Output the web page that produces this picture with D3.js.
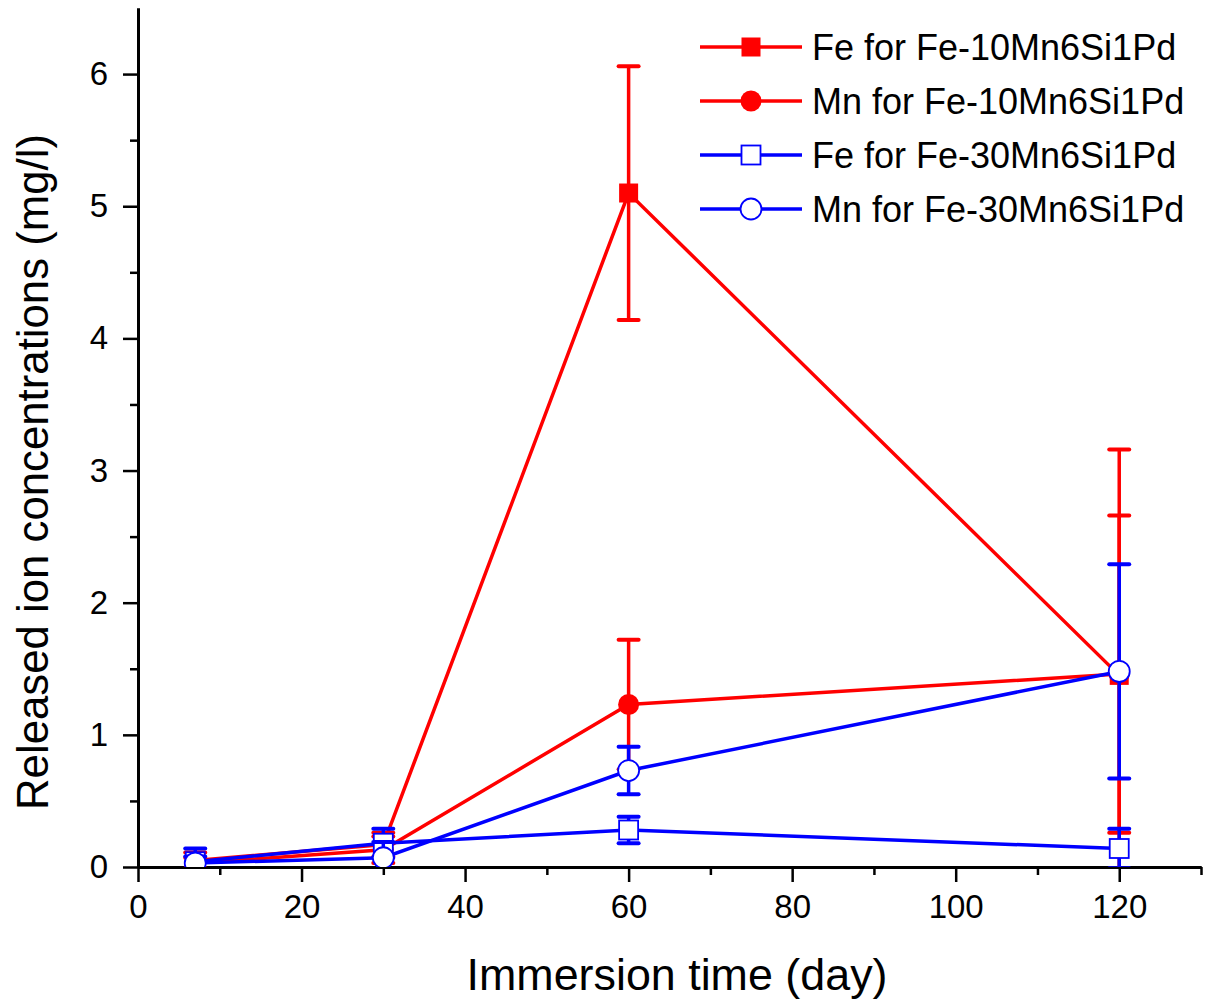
<!DOCTYPE html>
<html lang="en">
<head>
<meta charset="UTF-8" />
<title>Released ion concentrations</title>
<style>
  body { margin: 0; background: #fff; }
  svg text { font-family: "Liberation Sans", Arial, sans-serif; fill: #000; }
</style>
</head>
<body>
<script src="https://cdn.jsdelivr.net/npm/d3@7"></script>
<div id="app"></div>
<script>
// DATA
const days = [7, 30, 60, 120];

const feFe10 = [0.05, 0.17, 5.10, 1.45];
const feFe10Err = [0.06, 0.09, 0.96, 1.71];

const mnFe10 = [0.03, 0.13, 1.23, 1.46];
const mnFe10Err = [0.04, 0.10, 0.49, 1.20];

const feFe30 = [0.04, 0.18, 0.28, 0.14];
const feFe30Err = [0.10, 0.11, 0.10, 0.15];

const mnFe30 = [0.03, 0.07, 0.73, 1.48];
const mnFe30Err = [0.05, 0.12, 0.18, 0.81];

const seriesNames = [
  "Fe for Fe-10Mn6Si1Pd",
  "Mn for Fe-10Mn6Si1Pd",
  "Fe for Fe-30Mn6Si1Pd",
  "Mn for Fe-30Mn6Si1Pd"
];

const xTicks = [0, 20, 40, 60, 80, 100, 120];
const yTicks = [0, 1, 2, 3, 4, 5, 6];

// series table built from the arrays above
const series = [
  { name: seriesNames[0], vals: feFe10, errs: feFe10Err, color: "#ff0000", shape: "square", filled: true },
  { name: seriesNames[1], vals: mnFe10, errs: mnFe10Err, color: "#ff0000", shape: "circle", filled: true },
  { name: seriesNames[2], vals: feFe30, errs: feFe30Err, color: "#0000ff", shape: "square", filled: false },
  { name: seriesNames[3], vals: mnFe30, errs: mnFe30Err, color: "#0000ff", shape: "circle", filled: false }
];

// SVG
const w = 1206, h = 1007;
const mLeft = 138, mRight = 1201, mTop = 8, mBottom = 867;

const svg = d3.select("#app")
  .append("svg")
  .attr("width", w)
  .attr("height", h);

const xScale = d3.scaleLinear().domain([0, 130]).range([mLeft, mRight]);
const yScale = d3.scaleLinear().domain([0, 6.5]).range([mBottom, mTop]);

svg.append("clipPath").attr("id", "plotclip")
  .append("rect")
  .attr("x", mLeft).attr("y", mTop - 2)
  .attr("width", mRight - mLeft + 2).attr("height", mBottom - mTop + 2);

// AXES
const xAxis = d3.axisBottom(xScale)
  .tickValues(xTicks)
  .tickFormat(d3.format("d"))
  .tickSize(15)
  .tickSizeOuter(0)
  .tickPadding(13);

const xMinor = d3.axisBottom(xScale)
  .tickValues(d3.range(10, 131, 20))
  .tickFormat("")
  .tickSize(8)
  .tickSizeOuter(0);

const yAxis = d3.axisLeft(yScale)
  .tickValues(yTicks)
  .tickFormat(d3.format("d"))
  .tickSize(15)
  .tickSizeOuter(0)
  .tickPadding(15);

const yMinor = d3.axisLeft(yScale)
  .tickValues(d3.range(0.5, 6.5, 1))
  .tickFormat("")
  .tickSize(8)
  .tickSizeOuter(0);

[
  [xMinor, "translate(0," + mBottom + ")"],
  [xAxis, "translate(0," + mBottom + ")"],
  [yMinor, "translate(" + mLeft + ",0)"],
  [yAxis, "translate(" + mLeft + ",0)"]
].forEach(([ax, tr]) => {
  const g = svg.append("g").attr("transform", tr).call(ax);
  g.attr("font-size", null).attr("font-family", null);
  g.selectAll("line").attr("stroke", "#000").attr("stroke-width", 2.5);
  g.select(".domain").attr("stroke", "#000").attr("stroke-width", 3);
  g.selectAll("text").style("font-size", "33px");
});

// axis titles
svg.append("text")
  .attr("x", 677)
  .attr("y", 990)
  .attr("text-anchor", "middle")
  .attr("textLength", 421)
  .attr("lengthAdjust", "spacingAndGlyphs")
  .style("font-size", "44px")
  .text("Immersion time (day)");

svg.append("text")
  .attr("transform", "translate(48," + 472 + ") rotate(-90)")
  .attr("text-anchor", "middle")
  .attr("textLength", 676)
  .attr("lengthAdjust", "spacingAndGlyphs")
  .style("font-size", "44px")
  .text("Released ion concentrations (mg/l)");

// SERIES
const plot = svg.append("g").attr("clip-path", "url(#plotclip)");
const line = d3.line().x((d, i) => xScale(days[i])).y(d => yScale(d));

function drawMarker(g, shape, filled, color, cx, cy) {
  if (shape === "square") {
    g.append("rect")
      .attr("x", cx - 9.5).attr("y", cy - 9.5)
      .attr("width", 19).attr("height", 19)
      .attr("fill", filled ? color : "#fff")
      .attr("stroke", color)
      .attr("stroke-width", filled ? 0 : 1.8);
  } else {
    g.append("circle")
      .attr("cx", cx).attr("cy", cy).attr("r", 10.5)
      .attr("fill", filled ? color : "#fff")
      .attr("stroke", color)
      .attr("stroke-width", filled ? 0 : 1.8);
  }
}

series.forEach(s => {
  const g = plot.append("g");
  g.append("path")
    .datum(s.vals)
    .attr("d", line)
    .attr("fill", "none")
    .attr("stroke", s.color)
    .attr("stroke-width", 3.5);

  s.vals.forEach((v, i) => {
    const cx = xScale(days[i]);
    const hi = yScale(v + s.errs[i]);
    const lo = yScale(v - s.errs[i]);
    g.append("line")
      .attr("x1", cx).attr("x2", cx)
      .attr("y1", hi).attr("y2", lo)
      .attr("stroke", s.color).attr("stroke-width", 3.5);
    [hi, lo].forEach(yy => {
      g.append("line")
        .attr("x1", cx - 10).attr("x2", cx + 10)
        .attr("y1", yy).attr("y2", yy)
        .attr("stroke", s.color).attr("stroke-width", 4)
        .attr("stroke-linecap", "round");
    });
  });

  s.vals.forEach((v, i) => drawMarker(g, s.shape, s.filled, s.color, xScale(days[i]), yScale(v)));
});

// LEGEND
const legendY = [47, 101, 155, 209];
const legend = svg.append("g");
series.forEach((s, i) => {
  const yy = legendY[i];
  legend.append("line")
    .attr("x1", 700).attr("x2", 802)
    .attr("y1", yy).attr("y2", yy)
    .attr("stroke", s.color).attr("stroke-width", 3.5);
  drawMarker(legend, s.shape, s.filled, s.color, 751, yy);
  legend.append("text")
    .attr("x", 812)
    .attr("y", yy + 13)
    .style("font-size", "36px")
    .text(s.name);
});
</script>
</body>
</html>
